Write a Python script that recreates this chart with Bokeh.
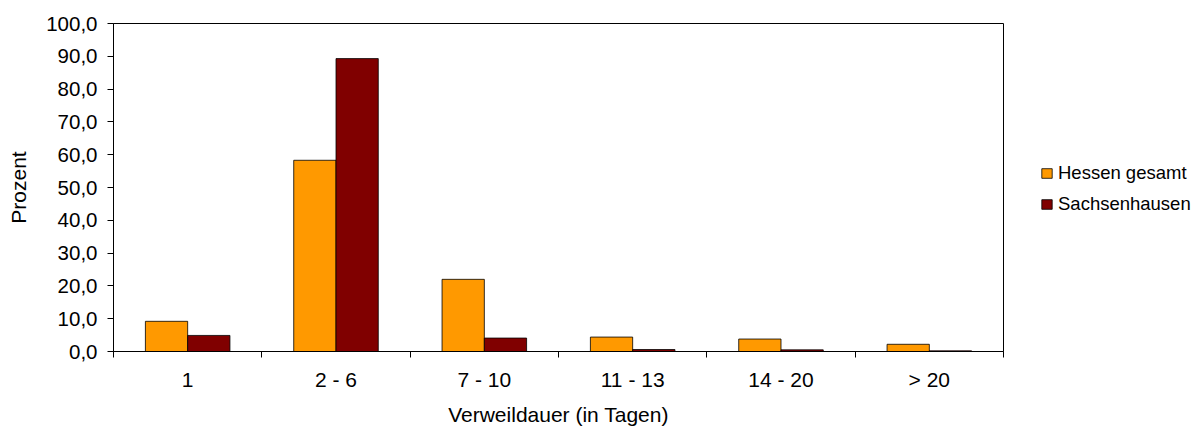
from bokeh.plotting import figure
from bokeh.layouts import row
from bokeh.models import ColumnDataSource, FixedTicker, Legend, LegendItem, Range1d
from bokeh.transform import dodge
from bokeh.embed import file_html
from bokeh.resources import INLINE

categories = ["1", "2 - 6", "7 - 10", "11 - 13", "14 - 20", "> 20"]
hessen = [9.2, 58.3, 22.0, 4.4, 3.8, 2.2]
sachsenhausen = [4.9, 89.3, 4.1, 0.6, 0.5, 0.2]
series_names = ["Hessen gesamt", "Sachsenhausen"]
series_colors = ["#FF9900", "#800000"]
y_ticks = [0, 10, 20, 30, 40, 50, 60, 70, 80, 90, 100]

FONT = "Liberation Sans"
centers = [i + 0.5 for i in range(len(categories))]
bounds = [float(i) for i in range(len(categories) + 1)]

src = ColumnDataSource(dict(x=centers, cat=categories, h=hessen, s=sachsenhausen))

p = figure(width=1010, height=428, output_backend="svg", toolbar_location=None,
           x_range=Range1d(0, len(categories)), y_range=Range1d(0, 100),
           min_border_left=113, min_border_right=7, min_border_top=23, min_border_bottom=75)

bw = 0.285
p.vbar(x=dodge("x", -bw / 2), top="h", width=bw, source=src,
       fill_color=series_colors[0], line_color="#000000", line_width=0.8)
p.vbar(x=dodge("x", bw / 2), top="s", width=bw, source=src,
       fill_color=series_colors[1], line_color="#000000", line_width=0.8)

p.grid.visible = False
p.outline_line_color = "#000000"
p.outline_line_width = 1
p.background_fill_color = "white"
p.border_fill_color = "white"

# x axis
xa = p.xaxis[0]
xa.ticker = FixedTicker(ticks=centers, minor_ticks=bounds)
xa.major_label_overrides = {c: lab for c, lab in zip(centers, categories)}
xa.major_tick_line_color = None
xa.major_tick_out = 0
xa.major_tick_in = 0
xa.minor_tick_out = 6
xa.minor_tick_in = 0
xa.minor_tick_line_color = "#000000"
xa.axis_line_color = "#000000"
xa.major_label_text_font = FONT
xa.major_label_text_font_size = "21px"
xa.major_label_text_color = "#000000"
xa.major_label_standoff = 10
xa.axis_label = "Verweildauer (in Tagen)"
xa.axis_label_text_font = FONT
xa.axis_label_text_font_size = "21px"
xa.axis_label_text_font_style = "normal"
xa.axis_label_text_color = "#000000"
xa.axis_label_standoff = 9

# y axis
ya = p.yaxis[0]
ya.ticker = FixedTicker(ticks=y_ticks)
ya.major_label_overrides = {t: f"{t:.1f}".replace(".", ",") for t in y_ticks}
ya.major_tick_out = 6
ya.major_tick_in = 0
ya.minor_tick_line_color = None
ya.axis_line_color = "#000000"
ya.major_tick_line_color = "#000000"
ya.major_label_text_font = FONT
ya.major_label_text_font_size = "20.5px"
ya.major_label_text_color = "#000000"
ya.major_label_standoff = 10
ya.axis_label = "Prozent"
ya.axis_label_text_font = FONT
ya.axis_label_text_font_size = "21px"
ya.axis_label_text_font_style = "normal"
ya.axis_label_text_color = "#000000"
ya.axis_label_standoff = 13

# legend panel to the right of the plot area (its bars lie outside its view)
leg = figure(width=190, height=428, output_backend="svg", toolbar_location=None,
             x_range=Range1d(-20, -10), y_range=Range1d(-2, -1),
             x_axis_type=None, y_axis_type=None,
             min_border_left=0, min_border_right=0, min_border_top=0, min_border_bottom=0)
leg.grid.visible = False
leg.outline_line_color = None
k1 = leg.vbar(x="x", top="h", width=0.1, source=src,
              fill_color=series_colors[0], line_color="#000000", line_width=0.8)
k2 = leg.vbar(x="x", top="s", width=0.1, source=src,
              fill_color=series_colors[1], line_color="#000000", line_width=0.8)

legend = Legend(items=[LegendItem(label=series_names[0], renderers=[k1]),
                       LegendItem(label=series_names[1], renderers=[k2])],
                location=(30, 136), border_line_color=None, background_fill_alpha=0,
                padding=0, margin=0, spacing=9, label_height=21, glyph_height=12,
                glyph_width=13, label_standoff=5,
                label_text_font=FONT, label_text_font_size="18.5px",
                label_text_color="#000000")
leg.add_layout(legend)

layout = row(p, leg, spacing=0)
open("out.html", "w").write(file_html(layout, INLINE))
